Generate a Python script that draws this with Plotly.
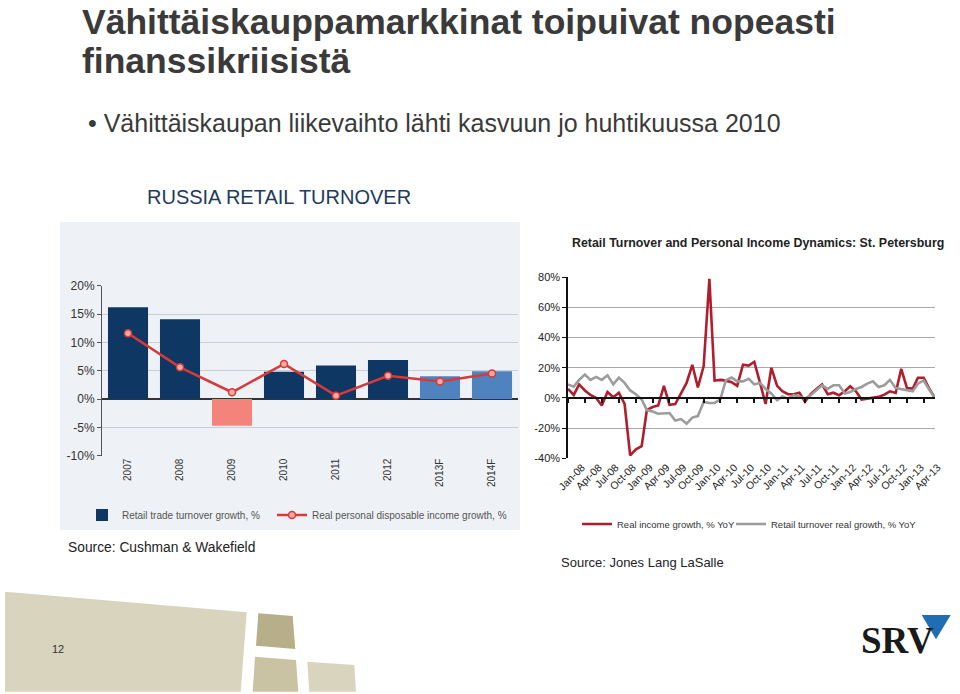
import plotly.graph_objects as go
import pandas as pd

W, H = 960, 694


def px(x):
    return x / W


def py(y):
    return 1 - y / H


# ---------------- Left chart data: Russia retail turnover ----------------
years = ["2007", "2008", "2009", "2010", "2011", "2012", "2013F", "2014F"]
turnover_growth = [16.2, 14.1, -4.7, 4.8, 5.9, 6.9, 4.0, 4.9]
income_growth = [11.6, 5.6, 1.2, 6.2, 0.6, 4.1, 3.1, 4.5]
left_ytick_vals = [-10, -5, 0, 5, 10, 15, 20]
left_ytick_labels = ["-10%", "-5%", "0%", "5%", "10%", "15%", "20%"]

# ---------------- Right chart data: St. Petersburg ----------------
months = pd.date_range("2008-01-01", periods=66, freq="MS")
real_income_yoy = [6, 2, 9, 5, 2, 0, -5, 4, 0.5, 3.5,
                   -4, -38, -34, -32, -8, -6, -5, 8, -4.5, -4,
                   3, 10, 22, 7, 21, 79, 11.5, 12, 11.5, 10.5,
                   8, 22, 21.5, 24, 10, -4, 20, 8, 4.5, 2.5,
                   2.5, 3.5, -2.5, 2.5, 6, 9, 2.5, 3.5, 1.8, 4.5,
                   7.7, 4.4, -1, -0.4, 0, 0.7, 2.2, 4.4, 3.3, 19.3,
                   6.6, 6.2, 13.4, 13.4, 6.2, 0]
retail_turnover_yoy = [9, 7.5, 12, 15.5, 12, 14, 12, 15, 9, 13.5,
                       10, 5, 2.5, -1, -8, -9, -10.5, -10.5, -10, -15,
                       -14, -17, -13, -12, -2.7, -3.3, -3.3, -1, 11.8, 13.5,
                       11, 11, 12.7, 9, 10, 6, 3, -1.5, 1, -0.5,
                       1.8, 1, -0.5, 1.8, 5, 8.4, 6, 8.4, 8.4, 3,
                       4, 6, 7.3, 9.5, 11, 7.3, 8.4, 12, 6.6, 6,
                       5.5, 4.4, 9.5, 11.6, 5.5, 0]
right_xtick_vals = list(months[::3])
right_xtick_labels = ["Jan-08", "Apr-08", "Jul-08", "Oct-08", "Jan-09", "Apr-09",
                      "Jul-09", "Oct-09", "Jan-10", "Apr-10", "Jul-10", "Oct-10",
                      "Jan-11", "Apr-11", "Jul-11", "Oct-11", "Jan-12", "Apr-12",
                      "Jul-12", "Oct-12", "Jan-13", "Apr-13"]
right_ytick_vals = [-40, -20, 0, 20, 40, 60, 80]
right_ytick_labels = ["-40%", "-20%", "0%", "20%", "40%", "60%", "80%"]

# ---------------- Styles ----------------
NAVY = "#0f3764"
LIGHTBLUE = "#4f83bf"
SALMON = "#f4837b"
bar_colors = [NAVY, NAVY, SALMON, NAVY, NAVY, NAVY, LIGHTBLUE, LIGHTBLUE]
SANS = "Liberation Sans, Arial, sans-serif"

fig = go.Figure()

fig.add_trace(go.Bar(
    x=years, y=turnover_growth, marker=dict(color=bar_colors, line=dict(width=0)),
    width=0.77, name="Retail trade turnover growth, %",
    xaxis="x", yaxis="y", legend="legend"))
fig.add_trace(go.Scatter(
    x=years, y=income_growth, mode="lines+markers",
    line=dict(color="#d8393a", width=2.5),
    marker=dict(size=7, color="#f3aaa4", line=dict(color="#d8393a", width=1.5)),
    name="Real personal disposable income growth, %",
    xaxis="x", yaxis="y", legend="legend2"))

fig.add_trace(go.Scatter(
    x=months, y=real_income_yoy, mode="lines",
    line=dict(color="#b01e2e", width=2.6),
    name="Real income growth, % YoY", xaxis="x2", yaxis="y2", legend="legend3"))
fig.add_trace(go.Scatter(
    x=months, y=retail_turnover_yoy, mode="lines",
    line=dict(color="#9c9c9c", width=2.6),
    name="Retail turnover real growth, % YoY", xaxis="x2", yaxis="y2", legend="legend4"))
# helper trace so the zero-line tick axis is drawn
fig.add_trace(go.Scatter(x=[months[0]], y=[None], xaxis="x3", yaxis="y2",
                         showlegend=False, hoverinfo="skip", mode="lines"))

# ---------------- Shapes ----------------
shapes = []
shapes.append(dict(type="rect", xref="paper", yref="paper",
                   x0=px(60), x1=px(520), y0=py(530), y1=py(222),
                   fillcolor="#eef1f5", line=dict(width=0), layer="below"))


def poly(points, color):
    d = "M " + " L ".join(f"{px(x):.5f},{py(y):.5f}" for x, y in points) + " Z"
    return dict(type="path", xref="paper", yref="paper", path=d,
                fillcolor=color, line=dict(width=0), layer="below")


shapes.append(poly([(5, 591.7), (246.7, 612.3), (240.7, 691.7), (5, 691.7)], "#d9d4bd"))
shapes.append(poly([(258.3, 613.3), (292.7, 616), (295.3, 649), (256, 645.7)], "#b6af8a"))
shapes.append(poly([(255, 656.7), (296, 660), (298.3, 691.7), (252.7, 691.7)], "#c9c3a3"))
shapes.append(poly([(307.3, 661.7), (354.3, 665), (356, 691.7), (309.3, 691.7)], "#d9d4bd"))
shapes.append(poly([(921.7, 615), (950.7, 615), (936, 639.3)], "#1f6db5"))

# ---------------- Annotations ----------------
anns = []


def ann(text, x, y, size, color="#333333", family=SANS, xanchor="left", yanchor="middle"):
    anns.append(dict(text=text, x=px(x), y=py(y), xref="paper", yref="paper",
                     xanchor=xanchor, yanchor=yanchor, showarrow=False,
                     font=dict(size=size, color=color, family=family)))


ann("<b>Vähittäiskauppamarkkinat toipuivat nopeasti</b>", 80, 0, 35.5, "#3a3a3a",
    yanchor="top")
ann("<b>finanssikriisistä</b>", 80, 39, 35.5, "#3a3a3a", yanchor="top")
ann("• Vähittäiskaupan liikevaihto lähti kasvuun jo huhtikuussa 2010", 86, 123, 25, "#3a3a3a")
ann("RUSSIA RETAIL TURNOVER", 145, 197, 20, "#1f3b5e")
ann("<b>Retail Turnover and Personal Income Dynamics: St. Petersburg</b>", 570, 243, 12.4,
    "#222222")
ann("Source: Cushman &amp; Wakefield", 66, 547, 13.8, "#222222")
ann("Source: Jones Lang LaSalle", 559, 562, 13, "#222222")
ann("12", 58, 649, 11, "#333333", xanchor="center")
ann("<b>SRV</b>", 897, 640, 37, "#1a1a1a", "Liberation Serif, DejaVu Serif, serif",
    xanchor="center")

NOMARGIN = dict(automargin=False)


def one_legend(x, y, size, color):
    return dict(x=px(x), y=py(y), xanchor="left", yanchor="middle",
                orientation="h", font=dict(size=size, color=color, family=SANS),
                bgcolor="rgba(0,0,0,0)", itemclick=False, itemdoubleclick=False)


fig.update_layout(
    width=W, height=H, autosize=False,
    margin=dict(l=0, r=0, t=0, b=0, pad=0),
    paper_bgcolor="white", plot_bgcolor="rgba(0,0,0,0)",
    font=dict(family=SANS, color="#333333"),
    shapes=shapes, annotations=anns,
    xaxis=dict(domain=[px(102), px(518)], anchor="y", type="category",
               tickangle=-90, tickfont=dict(size=10, color="#333333"),
               showline=False, ticks="", showgrid=False, zeroline=False, **NOMARGIN),
    yaxis=dict(domain=[py(455.7), py(285.7)], anchor="x", range=[-10, 20],
               tickmode="array", tickvals=left_ytick_vals, ticktext=left_ytick_labels,
               tickfont=dict(size=12, color="#333333"),
               showline=True, linecolor="#555555", linewidth=1,
               ticks="outside", ticklen=4, tickcolor="#555555",
               showgrid=True, gridcolor="#c9ced4", gridwidth=1,
               zeroline=True, zerolinecolor="#333333", zerolinewidth=1.5, **NOMARGIN),
    xaxis2=dict(domain=[px(568), px(935)], anchor="y2", type="date",
                range=[months[0], months[-1]],
                tickmode="array", tickvals=right_xtick_vals, ticktext=right_xtick_labels,
                tickangle=-45, tickfont=dict(size=10.5, color="#222222"),
                ticklabelshift=14,
                ticks="", showgrid=False, showline=False, zeroline=False, **NOMARGIN),
    xaxis3=dict(overlaying="x2", anchor="free", position=py(397.7), type="date",
                range=[months[0], months[-1]],
                tickmode="array", tickvals=right_xtick_vals,
                showticklabels=False, showline=True, linecolor="#111111", linewidth=1.5,
                ticks="outside", ticklen=5, tickcolor="#111111", tickwidth=1.5,
                showgrid=False, zeroline=False, **NOMARGIN),
    yaxis2=dict(domain=[py(458.3), py(277.3)], anchor="x2", range=[-40, 80],
                tickmode="array", tickvals=right_ytick_vals, ticktext=right_ytick_labels,
                tickfont=dict(size=11, color="#222222"),
                showline=True, linecolor="#111111", linewidth=1.5,
                ticks="outside", ticklen=4, tickcolor="#111111",
                showgrid=True, gridcolor="#a9a9a9", gridwidth=1, zeroline=False, **NOMARGIN),
    legend=one_legend(82, 515, 10, "#555555"),
    legend2=one_legend(272, 515, 10, "#555555"),
    legend3=one_legend(577, 524, 9.5, "#333333"),
    legend4=one_legend(731, 524, 9.5, "#333333"),
    showlegend=True,
)

fig.write_html("out.html", config={"displayModeBar": False},
               post_script="document.body.style.margin='0';document.body.style.overflow='hidden';")
